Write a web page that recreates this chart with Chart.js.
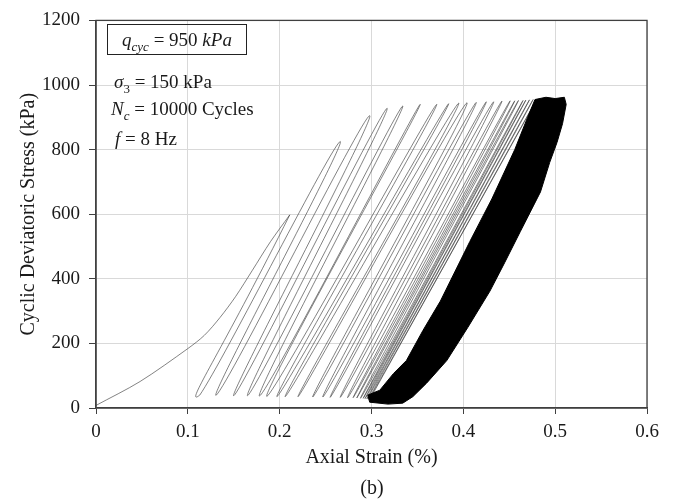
<!DOCTYPE html>
<html>
<head>
<meta charset="utf-8">
<script src="https://cdn.jsdelivr.net/npm/chart.js@4.4.1/dist/chart.umd.min.js"></script>
<style>
    body { margin: 0; background: #ffffff; }
    #wrap { position: relative; width: 674px; height: 502px; font-family: 'Liberation Serif', serif; color: #1a1a1a; }
    .note { position: absolute; white-space: nowrap; font-size: 19px; line-height: 1; }
    #qbox { left: 107px; top: 24px; width: 138px; height: 29px; border: 1.5px solid #222; text-align: center; line-height: 29px; }
    #caption { position: absolute; left: 0; width: 744px; top: 476px; text-align: center; font-size: 20px; }
</style>
</head>
<body>
<div id="wrap">
    <canvas id="chart" width="674" height="502"></canvas>
    <div class="note" id="qbox"><i>q</i><sub style="font-size:13px"><i>cyc</i></sub> = 950 <i>kPa</i></div>
    <div class="note" style="left:114px; top:72px;"><i>σ</i><sub style="font-size:13px">3</sub> = 150 kPa</div>
    <div class="note" style="left:111px; top:99px;"><i>N</i><sub style="font-size:13px"><i>c</i></sub> = 10000 Cycles</div>
    <div class="note" style="left:115px; top:129px;"><i>f</i> = 8 Hz</div>
    <div id="caption">(b)</div>
</div>
<script>
// --- Datos ---
// Curva de carga inicial (deformación %, esfuerzo kPa)
const initStrain = [0, 0.048, 0.1, 0.118, 0.135, 0.152, 0.17, 0.19, 0.211];
const initStress = [8, 82, 184, 225, 280, 345, 425, 515, 598];

// Valles de cada ciclo (descarga)
const valleyStrain = [0.113, 0.131, 0.150, 0.165, 0.178, 0.186, 0.197, 0.206, 0.220, 0.236, 0.247, 0.255, 0.266, 0.274, 0.280, 0.284, 0.288, 0.291, 0.293, 0.295, 0.297, 0.298];
const valleyStress = [40, 40, 38, 38, 37, 36, 35, 35, 35, 34, 34, 33, 33, 32, 32, 31, 30, 30, 29, 28, 27, 26];

// Picos de cada ciclo
const peakStrain = [0.266, 0.298, 0.317, 0.334, 0.353, 0.371, 0.384, 0.395, 0.404, 0.414, 0.425, 0.433, 0.442, 0.451, 0.456, 0.460, 0.465, 0.468, 0.472, 0.476, 0.480];
const peakStress = [825, 905, 928, 935, 940, 940, 942, 944, 945, 946, 948, 948, 950, 951, 951, 952, 952, 953, 954, 955, 956];

// Contorno de la zona negra (miles de ciclos superpuestos)
const blackStrain = [0.478, 0.490, 0.500, 0.510, 0.512, 0.508, 0.502, 0.494, 0.484, 0.462, 0.445, 0.429, 0.405, 0.382, 0.360, 0.345, 0.334, 0.318, 0.298, 0.296, 0.309, 0.324, 0.338, 0.356, 0.375, 0.407, 0.431, 0.456, 0.470, 0.478];
const blackStress = [955, 962, 958, 962, 940, 880, 822, 760, 669, 546, 450, 362, 250, 147, 77, 35, 15, 12, 18, 40, 55, 107, 147, 240, 331, 515, 647, 800, 900, 955];

// Ticks de los ejes
const xTicks = [0, 0.1, 0.2, 0.3, 0.4, 0.5, 0.6];
const yTicks = [0, 200, 400, 600, 800, 1000, 1200];

// Curva de carga inicial
const initPts = initStrain.map(function(s, i) { return { x: s, y: initStress[i] }; });

// Ciclos: desde el último punto de la carga inicial, valle -> pico
const last0 = initStrain.length - 1;
const loopPts = [{ x: initStrain[last0], y: initStress[last0] }];
for (let i = 0; i < peakStrain.length; i++) {
    loopPts.push({ x: valleyStrain[i], y: valleyStress[i] });
    loopPts.push({ x: peakStrain[i], y: peakStress[i] });
}
const lastV = valleyStrain.length - 1;
loopPts.push({ x: valleyStrain[lastV], y: valleyStress[lastV] });

const blackPts = blackStrain.map(function(s, i) { return { x: s, y: blackStress[i] }; });

// Marco completo del área de la gráfica
const frameBox = {
    id: 'frameBox',
    afterDatasetsDraw(chart) {
        const a = chart.chartArea;
        const c = chart.ctx;
        c.save();
        c.strokeStyle = '#404040';
        c.lineWidth = 1.3;
        c.strokeRect(a.left, a.top, a.right - a.left, a.bottom - a.top);
        c.restore();
    }
};

const fontTick = { family: 'Liberation Serif', size: 19 };
const fontTitle = { family: 'Liberation Serif', size: 20 };
const greyLine = 'rgba(60, 60, 60, 0.8)';

new Chart(document.getElementById('chart'), {
    type: 'scatter',
    data: {
        datasets: [
            {
                data: blackPts,
                showLine: true,
                borderColor: '#000000',
                backgroundColor: '#000000',
                borderWidth: 1,
                pointRadius: 0,
                tension: 0,
                fill: 'shape'
            },
            {
                data: loopPts,
                showLine: true,
                borderColor: greyLine,
                borderWidth: 0.8,
                pointRadius: 0,
                tension: 0.8,
                fill: false
            },
            {
                data: initPts,
                showLine: true,
                borderColor: greyLine,
                borderWidth: 0.8,
                pointRadius: 0,
                tension: 0.3,
                fill: false
            }
        ]
    },
    options: {
        responsive: false,
        devicePixelRatio: 1,
        animation: false,
        layout: { padding: { left: 8, right: 27, top: 17, bottom: 30 } },
        plugins: {
            legend: { display: false },
            tooltip: { enabled: false }
        },
        scales: {
            x: {
                type: 'linear',
                min: 0,
                max: 0.6,
                afterBuildTicks: function(axis) { axis.ticks = xTicks.map(function(v) { return { value: v }; }); },
                afterFit: function(axis) { axis.height = 64; },
                ticks: {
                    color: '#1a1a1a',
                    font: fontTick,
                    padding: 7,
                    maxRotation: 0,
                    callback: function(v) { return String(v); }
                },
                grid: { color: '#d9d9d9', tickColor: '#404040', tickLength: 6 },
                border: { color: '#404040', width: 1.3 },
                title: { display: true, text: 'Axial Strain (%)', color: '#1a1a1a', font: fontTitle, padding: { top: 0, bottom: 2 } }
            },
            y: {
                type: 'linear',
                min: 0,
                max: 1200,
                afterBuildTicks: function(axis) { axis.ticks = yTicks.map(function(v) { return { value: v }; }); },
                afterFit: function(axis) { axis.width = 88; },
                ticks: {
                    color: '#1a1a1a',
                    font: fontTick,
                    padding: 9,
                    callback: function(v) { return String(v); }
                },
                grid: { color: '#d9d9d9', tickColor: '#404040', tickLength: 7 },
                border: { color: '#404040', width: 1.3 },
                title: { display: true, text: 'Cyclic Deviatoric Stress (kPa)', color: '#1a1a1a', font: fontTitle, padding: { top: 9, bottom: 0 } }
            }
        }
    },
    plugins: [frameBox]
});
</script>
</body>
</html>
